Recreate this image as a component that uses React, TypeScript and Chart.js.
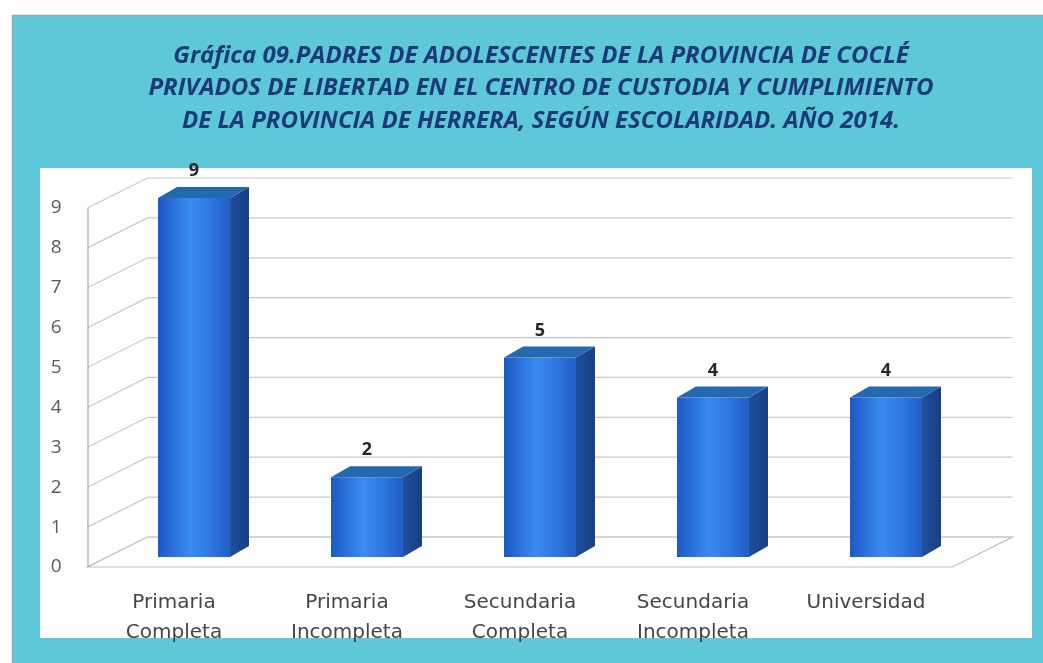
import React, { useEffect, useRef } from "react";
import { Chart, registerables } from "chart.js";

Chart.register(...registerables);

const categories: string[][] = [
  ["Primaria", "Completa"],
  ["Primaria", "Incompleta"],
  ["Secundaria", "Completa"],
  ["Secundaria", "Incompleta"],
  ["Universidad"],
];
const values: number[] = [9, 2, 5, 4, 4];
const titleLines: string[] = [
  "Gráfica 09.PADRES DE ADOLESCENTES DE LA PROVINCIA DE COCLÉ",
  "PRIVADOS DE LIBERTAD EN EL CENTRO DE CUSTODIA Y CUMPLIMIENTO",
  "DE LA PROVINCIA DE HERRERA, SEGÚN ESCOLARIDAD. AÑO 2014.",
];
const yTicks: number[] = [0, 1, 2, 3, 4, 5, 6, 7, 8, 9];

const W = 1043;
const H = 663;

// 3D offsets relative to the bar plane
const FX = -20, FY = 10; // front plane
const BX = 40, BY = -20; // back wall
const DX = 19, DY = -11; // bar depth

const backgroundPlugin = {
  id: "frameBg",
  beforeDraw(chart: any) {
    const ctx = chart.ctx;
    ctx.save();
    ctx.fillStyle = "#ffffff";
    ctx.fillRect(0, 0, W, H);
    ctx.fillStyle = "#5ec8d9";
    ctx.fillRect(12, 15, W - 12, H - 15);
    ctx.strokeStyle = "#8fa9b0";
    ctx.lineWidth = 1.5;
    ctx.beginPath();
    ctx.moveTo(12, 15.5);
    ctx.lineTo(W, 15.5);
    ctx.moveTo(12.5, 15);
    ctx.lineTo(12.5, H);
    ctx.stroke();
    ctx.fillStyle = "#ffffff";
    ctx.fillRect(40, 168, 1032 - 40, 638 - 168);
    ctx.restore();
  },
};

const threeDPlugin = {
  id: "threeD",
  beforeDatasetsDraw(chart: any) {
    const ctx = chart.ctx;
    const { left, right } = chart.chartArea;
    const ys = chart.scales.y;
    const x0 = left + FX;
    const x1 = left + BX;
    const x2 = right + BX;
    const xf = right + FX;
    const y0 = ys.getPixelForValue(0);
    ctx.save();
    // floor
    ctx.strokeStyle = "#bdbdbd";
    ctx.lineWidth = 1.2;
    ctx.beginPath();
    ctx.moveTo(x0, y0 + FY);
    ctx.lineTo(xf, y0 + FY);
    ctx.lineTo(x2, y0 + BY);
    ctx.lineTo(x1, y0 + BY);
    ctx.closePath();
    ctx.stroke();
    // grid lines
    ctx.strokeStyle = "#c9c9c9";
    ctx.lineWidth = 1.2;
    ys.ticks.forEach((t: any) => {
      const y = ys.getPixelForValue(t.value);
      ctx.beginPath();
      ctx.moveTo(x0, y + FY);
      ctx.lineTo(x1, y + BY);
      ctx.lineTo(x2, y + BY);
      ctx.stroke();
    });
    // front axis line
    const yTop = ys.getPixelForValue(ys.max);
    ctx.strokeStyle = "#8d9aa6";
    ctx.lineWidth = 1;
    ctx.beginPath();
    ctx.moveTo(x0 + 0.5, yTop + FY);
    ctx.lineTo(x0 + 0.5, y0 + FY);
    ctx.stroke();
    ctx.restore();
  },
  afterDatasetsDraw(chart: any) {
    const ctx = chart.ctx;
    const meta = chart.getDatasetMeta(0);
    ctx.save();
    meta.data.forEach((el: any, i: number) => {
      const w = el.width;
      const l = el.x - w / 2;
      const r = el.x + w / 2;
      const top = el.y;
      const base = el.base;
      // side
      const sg = ctx.createLinearGradient(r, 0, r + DX, 0);
      sg.addColorStop(0, "#1f4f9e");
      sg.addColorStop(1, "#173f82");
      ctx.fillStyle = sg;
      ctx.beginPath();
      ctx.moveTo(r, top);
      ctx.lineTo(r + DX, top + DY);
      ctx.lineTo(r + DX, base + DY);
      ctx.lineTo(r, base);
      ctx.closePath();
      ctx.fill();
      // top
      ctx.fillStyle = "#2468b0";
      ctx.beginPath();
      ctx.moveTo(l, top);
      ctx.lineTo(l + DX, top + DY);
      ctx.lineTo(r + DX, top + DY);
      ctx.lineTo(r, top);
      ctx.closePath();
      ctx.fill();
      // value label
      ctx.fillStyle = "#262626";
      ctx.font = "bold 18px 'Open Sans'";
      ctx.textAlign = "center";
      ctx.textBaseline = "middle";
      ctx.fillText(String(values[i]), el.x, top - 27);
    });
    ctx.restore();
  },
};

export default function App() {
  const ref = useRef<HTMLCanvasElement | null>(null);
  useEffect(() => {
    if (!ref.current) return;
    const chart = new Chart(ref.current, {
      type: "bar",
      data: {
        labels: categories,
        datasets: [
          {
            data: values,
            categoryPercentage: 1,
            barPercentage: 0.416,
            borderWidth: 0,
            backgroundColor: (c: any) => {
              const ch = c.chart;
              const xs = ch.scales && ch.scales.x;
              if (!xs || !ch.chartArea) return "#2f7be6";
              const cx = xs.getPixelForValue(c.dataIndex);
              const hw = 36;
              const g = ch.ctx.createLinearGradient(cx - hw, 0, cx + hw, 0);
              g.addColorStop(0, "#1d58c4");
              g.addColorStop(0.45, "#3a8cf0");
              g.addColorStop(0.75, "#2d74de");
              g.addColorStop(1, "#215dc4");
              return g;
            },
          },
        ],
      },
      options: {
        responsive: false,
        animation: false,
        layout: { padding: { left: 40, right: 1, top: 0, bottom: 0 } },
        plugins: {
          legend: { display: false },
          tooltip: { enabled: false },
          title: {
            display: true,
            text: titleLines,
            color: "#1c3a76",
            font: { family: "'Open Sans'", size: 24, weight: "bold", style: "italic", lineHeight: 1.35 },
            padding: { top: 40, bottom: 60.8 },
          },
        },
        scales: {
          x: {
            grid: { display: false, drawTicks: false },
            border: { display: false },
            ticks: {
              color: "#454545",
              font: { family: "'DejaVu Sans'", size: 20, lineHeight: 1.5 },
              padding: 31,
              labelOffset: -20,
              maxRotation: 0,
              autoSkip: false,
            },
            afterFit: (s: any) => {
              s.height = 106;
            },
          },
          y: {
            min: 0,
            max: 9,
            grid: { display: false, drawTicks: false },
            border: { display: false },
            afterBuildTicks: (s: any) => {
              s.ticks = yTicks.map((v) => ({ value: v }));
            },
            ticks: {
              color: "#5a5a5a",
              font: { family: "'Open Sans'", size: 19 },
              padding: 46,
              labelOffset: 10,
            },
            afterFit: (s: any) => {
              s.width = 67.5;
            },
          },
          yRight: {
            position: "right",
            display: true,
            min: 0,
            max: 9,
            grid: { display: false, drawTicks: false },
            border: { display: false },
            ticks: { display: false },
            afterFit: (s: any) => {
              s.width = 69.5;
            },
          },
        },
      },
      plugins: [backgroundPlugin, threeDPlugin],
    });
    return () => chart.destroy();
  }, []);
  return (
    <div style={{ position: "absolute", left: 0, top: 0, width: W, height: H }}>
      <canvas ref={ref} width={W} height={H} style={{ width: W, height: H, display: "block" }} />
    </div>
  );
}
